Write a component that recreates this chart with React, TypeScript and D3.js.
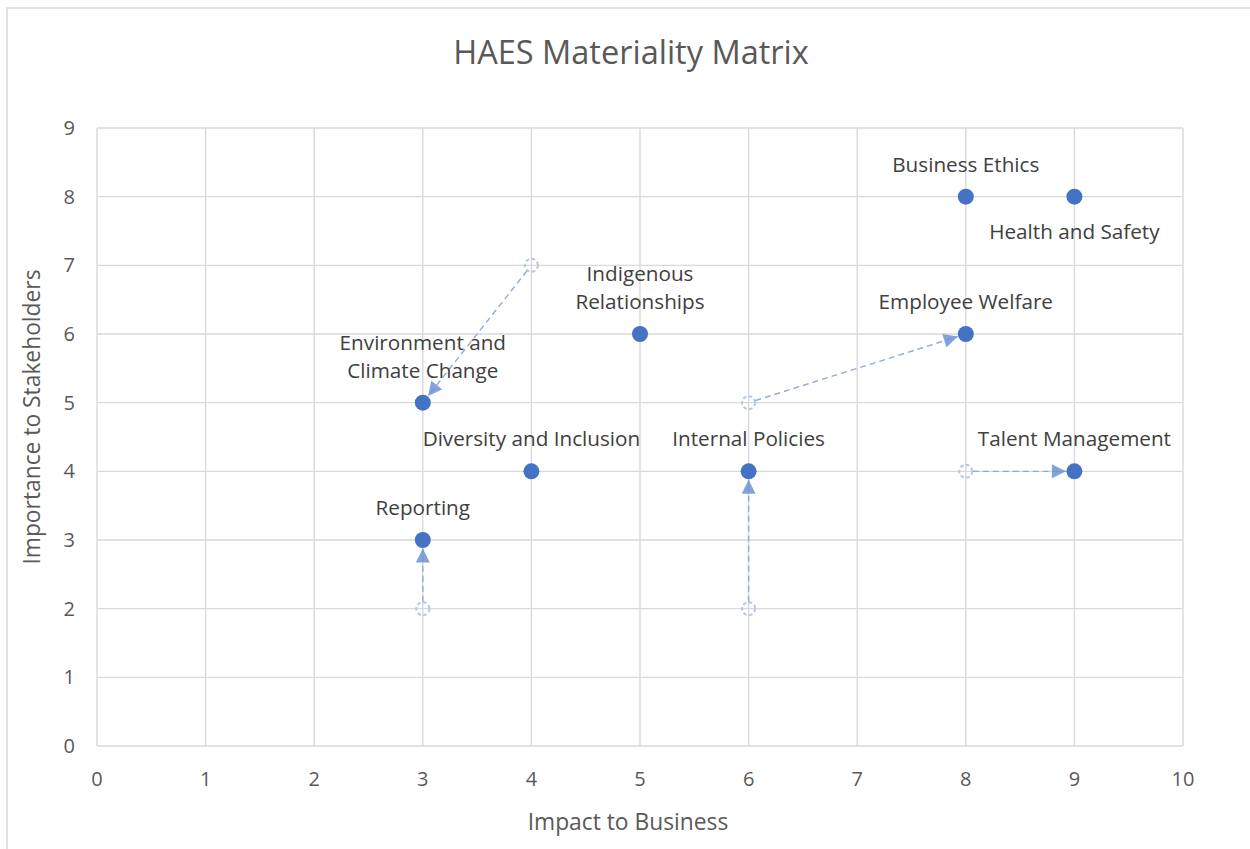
import React from "react";
import * as d3 from "d3";

// chart data
const topics = [
  "Business Ethics",
  "Health and Safety",
  "Indigenous Relationships",
  "Employee Welfare",
  "Environment and Climate Change",
  "Diversity and Inclusion",
  "Internal Policies",
  "Talent Management",
  "Reporting",
];
const impact = [8, 9, 5, 8, 3, 4, 6, 9, 3];
const importance = [8, 8, 6, 6, 5, 4, 4, 4, 3];
const labelLines = [
  ["Business Ethics"],
  ["Health and Safety"],
  ["Indigenous", "Relationships"],
  ["Employee Welfare"],
  ["Environment and", "Climate Change"],
  ["Diversity and Inclusion"],
  ["Internal Policies"],
  ["Talent Management"],
  ["Reporting"],
];
const labelBelow = [false, true, false, false, false, false, false, false, false];

// previous positions (moved topics)
const movedTopics = ["Environment and Climate Change", "Employee Welfare", "Reporting", "Internal Policies", "Talent Management"];
const prevImpact = [4, 6, 3, 6, 8];
const prevImportance = [7, 5, 2, 2, 4];

const xTicks = [0, 1, 2, 3, 4, 5, 6, 7, 8, 9, 10];
const yTicks = [0, 1, 2, 3, 4, 5, 6, 7, 8, 9];

const W = 1250;
const H = 849;
const FONT = "'Open Sans', 'DejaVu Sans', sans-serif";

export default function App() {
  const margin = {left: 97, right: 1183, top: 128, bottom: 746};
  const x = d3.scaleLinear().domain([0, 10]).range([margin.left, margin.right]);
  const y = d3.scaleLinear().domain([0, 9]).range([margin.bottom, margin.top]);
  const r = 8;

  const arrows = movedTopics.map((t, i) => {
    const k = topics.indexOf(t);
    const x0 = x(prevImpact[i]);
    const y0 = y(prevImportance[i]);
    const x1 = x(impact[k]);
    const y1 = y(importance[k]);
    const len = Math.hypot(x1 - x0, y1 - y0);
    const ux = (x1 - x0) / len;
    const uy = (y1 - y0) / len;
    return {
      t, x0, y0,
      sx: x0 + ux * 7, sy: y0 + uy * 7,
      ex: x1 - ux * (r + 0.5), ey: y1 - uy * (r + 0.5),
    };
  });

  return (
    <div style={{position: "absolute", left: 0, top: 0}}>
      <svg width={W} height={H} style={{display: "block", background: "#fff"}}>
        <defs>
          <marker id="arrowHead" viewBox="0 0 10 10" refX="10" refY="5"
                  markerUnits="userSpaceOnUse" markerWidth="15" markerHeight="14" orient="auto">
            <path d="M0,0 L10,5 L0,10 Z" fill="#6f93d4" fillOpacity={0.85}/>
          </marker>
        </defs>
        <rect x={7} y={8} width={W + 20} height={H + 20} fill="#fff" stroke="#d9d9d9" strokeWidth={1.5}/>

        <text x={631} y={64} textAnchor="middle" fontFamily={FONT} fontSize={32.5} fill="#595959">
          HAES Materiality Matrix
        </text>

        {/* grid */}
        <g stroke="#d9d9d9" strokeWidth={1.4}>
          {xTicks.map(t => (
            <line key={"gx" + t} x1={x(t)} x2={x(t)} y1={y(9)} y2={y(0)}/>
          ))}
          {yTicks.map(t => (
            <line key={"gy" + t} x1={x(0)} x2={x(10)} y1={y(t)} y2={y(t)}/>
          ))}
        </g>

        {/* tick labels */}
        <g fontFamily={FONT} fontSize={20} fill="#595959">
          {xTicks.map(t => (
            <text key={"tx" + t} x={x(t)} y={786} textAnchor="middle">{t}</text>
          ))}
          {yTicks.map(t => (
            <text key={"ty" + t} x={75} y={y(t) + 7} textAnchor="end">{t}</text>
          ))}
        </g>

        {/* axis titles */}
        <text x={628} y={830} textAnchor="middle"
              fontFamily={FONT} fontSize={22.8} fill="#595959">Impact to Business</text>
        <text transform="translate(40, 417) rotate(-90)" textAnchor="middle"
              fontFamily={FONT} fontSize={22.8} fill="#595959">Importance to Stakeholders</text>

        {/* previous positions */}
        {arrows.map(a => (
          <circle key={"p" + a.t} cx={a.x0} cy={a.y0} r={6.5} fill="none"
                  stroke="#b4c7e7" strokeWidth={2} strokeDasharray="3.5,2.5"/>
        ))}

        {/* movement arrows */}
        {arrows.map(a => (
          <line key={"a" + a.t} x1={a.sx} y1={a.sy} x2={a.ex} y2={a.ey}
                stroke="#8faadc" strokeWidth={1.4} strokeDasharray="6,4" markerEnd="url(#arrowHead)"/>
        ))}

        {/* current positions */}
        {topics.map((t, i) => (
          <circle key={"c" + t} cx={x(impact[i])} cy={y(importance[i])} r={r} fill="#4472c4"/>
        ))}

        {/* labels */}
        <g fontFamily={FONT} fontSize={20.7} fill="#404040" textAnchor="middle">
          {topics.map((t, i) => {
            const lines = labelLines[i];
            const cx = x(impact[i]);
            const cy = y(importance[i]);
            return lines.map((ln, j) => {
              const yy = labelBelow[i]
                ? cy + 42 + j * 28
                : cy - 25 - (lines.length - 1 - j) * 28;
              return <text key={t + j} x={cx} y={yy}>{ln}</text>;
            });
          })}
        </g>
      </svg>
    </div>
  );
}
